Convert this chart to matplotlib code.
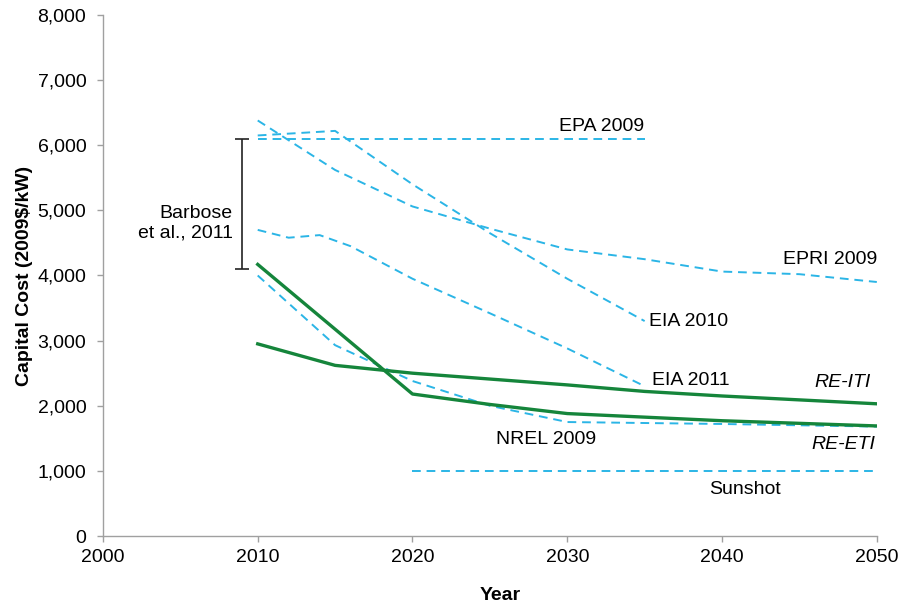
import matplotlib
matplotlib.use("Agg")
import matplotlib.pyplot as plt
from matplotlib.ticker import FuncFormatter

plt.rcParams['font.family'] = ['Liberation Sans', 'DejaVu Sans']

# Projections (year, capital cost in 2009$/kW)
epa_years = [2010, 2035]
epa_cost = [6100, 6100]

epri_years = [2010, 2015, 2020, 2025, 2030, 2035, 2040, 2045, 2050]
epri_cost = [6380, 5620, 5060, 4720, 4400, 4250, 4060, 4020, 3900]

eia2010_years = [2010, 2015, 2020, 2025, 2030, 2035]
eia2010_cost = [6150, 6220, 5400, 4650, 3950, 3300]

eia2011_years = [2010, 2012, 2014, 2016, 2020, 2025, 2030, 2035]
eia2011_cost = [4700, 4580, 4620, 4450, 3950, 3420, 2880, 2300]

nrel_years = [2010, 2015, 2020, 2025, 2030, 2040, 2050]
nrel_cost = [4000, 2930, 2380, 2000, 1750, 1720, 1680]

sunshot_years = [2020, 2050]
sunshot_cost = [1000, 1000]

reiti_years = [2010, 2015, 2020, 2025, 2030, 2035, 2040, 2050]
reiti_cost = [2950, 2620, 2500, 2410, 2320, 2220, 2150, 2030]

reeti_years = [2010, 2020, 2025, 2030, 2040, 2050]
reeti_cost = [4170, 2180, 2020, 1880, 1770, 1690]

barbose_year = 2009
barbose_low, barbose_high = 4100, 6100

x_ticks = [2000, 2010, 2020, 2030, 2040, 2050]
y_ticks = [0, 1000, 2000, 3000, 4000, 5000, 6000, 7000, 8000]

blue = '#2bb5e6'
green = '#15853b'

fig = plt.figure(figsize=(9.03, 6.08), dpi=100)
ax = fig.add_axes([0.114, 0.1184, 0.857, 0.857])

dash = dict(color=blue, lw=1.4, dashes=(4.5, 3))
for xs, ys in [(epa_years, epa_cost), (epri_years, epri_cost),
               (eia2010_years, eia2010_cost), (eia2011_years, eia2011_cost),
               (nrel_years, nrel_cost), (sunshot_years, sunshot_cost)]:
    ax.plot(xs, ys, **dash)

ax.plot(reiti_years, reiti_cost, color=green, lw=2.4)
ax.plot(reeti_years, reeti_cost, color=green, lw=2.4)

# Barbose et al. range bar
ax.errorbar([barbose_year], [(barbose_low + barbose_high) / 2],
            yerr=[[(barbose_high - barbose_low) / 2]],
            fmt='none', ecolor='#222222', elinewidth=1.2, capsize=5, capthick=1.2)

fs = 14
ax.text(2032.2, 6280, 'EPA 2009', fontsize=fs, ha='center', va='center')
ax.text(2050, 4240, 'EPRI 2009', fontsize=fs, ha='right', va='center')
ax.text(2035.3, 3300, 'EIA 2010', fontsize=fs, ha='left', va='center')
ax.text(2035.5, 2380, 'EIA 2011', fontsize=fs, ha='left', va='center')
ax.text(2049.6, 2350, 'RE-ITI', fontsize=fs, ha='right', va='center', style='italic')
ax.text(2028.6, 1475, 'NREL 2009', fontsize=fs, ha='center', va='center')
ax.text(2049.9, 1400, 'RE-ETI', fontsize=fs, ha='right', va='center', style='italic')
ax.text(2041.5, 720, 'Sunshot', fontsize=fs, ha='center', va='center')
ax.text(2008.4, 4800, 'Barbose\net al., 2011', fontsize=fs, ha='right', va='center',
        linespacing=1.2)

ax.set_xlim(2000, 2050)
ax.set_ylim(0, 8000)
ax.set_xticks(x_ticks)
ax.set_yticks(y_ticks)
ax.yaxis.set_major_formatter(FuncFormatter(lambda v, p: f'{int(v):,}'))
ax.tick_params(axis='both', labelsize=14, color='#a0a0a0', length=4, width=1)
ax.tick_params(axis='x', pad=5)
ax.tick_params(axis='y', pad=8)

for s in ['top', 'right']:
    ax.spines[s].set_visible(False)
for s in ['left', 'bottom']:
    ax.spines[s].set_color('#a0a0a0')
    ax.spines[s].set_linewidth(1.0)

ax.set_xlabel('Year', fontsize=14, fontweight='bold')
ax.set_ylabel('Capital Cost (2009$/kW)', fontsize=14, fontweight='bold')
ax.xaxis.set_label_coords(0.513, -0.098)
ax.yaxis.set_label_coords(-0.09, 0.5)

fig.savefig('out.png', dpi=100)
